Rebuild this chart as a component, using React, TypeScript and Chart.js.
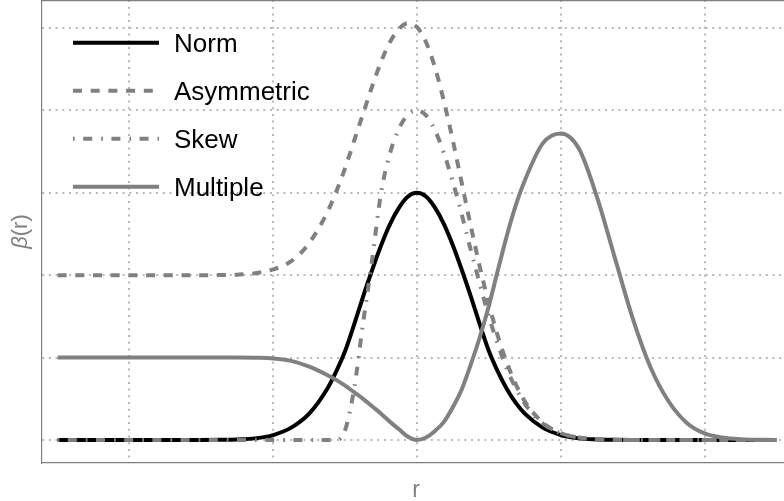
import React, { useEffect, useRef } from 'react';
import { Chart, registerables } from 'chart.js';

Chart.register(...registerables);

// r sample positions
const R = [
  -5, -4.5, -4, -3.5, -3, -2.75, -2.5, -2.25, -2, -1.75, -1.5, -1.25,
  -1.125, -1, -0.875, -0.75, -0.625, -0.5, -0.375, -0.25, -0.125, 0,
  0.125, 0.25, 0.375, 0.5, 0.625, 0.75, 0.875, 1, 1.125, 1.25, 1.375, 1.5,
  1.75, 2, 2.25, 2.5, 2.75, 3, 3.25, 3.5, 3.75, 4, 4.25, 4.5, 5,
];

const NORM = [
  0, 0, 0, 0, 0, 0.002, 0.007, 0.02, 0.06, 0.15, 0.32, 0.62,
  0.83, 1.08, 1.4, 1.74, 2.06, 2.36, 2.62, 2.82, 2.955, 3.0,
  2.955, 2.82, 2.62, 2.36, 2.06, 1.74, 1.4, 1.08, 0.83, 0.62, 0.45, 0.32,
  0.15, 0.06, 0.02, 0.007, 0.002, 0, 0, 0, 0, 0, 0, 0, 0,
];

const ASYMMETRIC = [
  2, 2, 2, 2, 2, 2.002, 2.007, 2.024, 2.07, 2.17, 2.39, 2.76,
  3.01, 3.3, 3.63, 3.96, 4.29, 4.59, 4.83, 4.99, 5.06, 5.01,
  4.83, 4.52, 4.11, 3.63, 3.11, 2.59, 2.1, 1.65, 1.26, 0.94, 0.675, 0.47,
  0.21, 0.085, 0.03, 0.01, 0.003, 0, 0, 0, 0, 0, 0, 0, 0,
];

const SKEW = [
  0, 0, 0, 0, 0, 0, 0, 0, 0, 0, 0, 0,
  0, 0.12, 0.62, 1.42, 2.18, 3.0, 3.48, 3.78, 3.95, 4.0,
  3.94, 3.76, 3.48, 3.13, 2.73, 2.3, 1.89, 1.5, 1.16, 0.86, 0.63, 0.44,
  0.2, 0.08, 0.03, 0.01, 0.003, 0, 0, 0, 0, 0, 0, 0, 0,
];

const MULTIPLE = [
  1, 1, 1, 1, 1, 1, 1, 0.998, 0.99, 0.96, 0.89, 0.79,
  0.73, 0.66, 0.58, 0.5, 0.41, 0.32, 0.22, 0.13, 0.04, 0.0,
  0.03, 0.11, 0.22, 0.4, 0.62, 0.92, 1.25, 1.63, 2.06, 2.48, 2.85, 3.15,
  3.6, 3.72, 3.54, 2.96, 2.22, 1.48, 0.88, 0.47, 0.21, 0.08, 0.03, 0.01, 0,
];

const SERIES_LABELS = ['Norm', 'Asymmetric', 'Skew', 'Multiple'];
const X_GRID = [-4, -2, 0, 2, 4];
const Y_GRID = [0, 1, 2, 3, 4, 5];
const X_TITLE = 'r';
const Y_TITLE_SYMBOL = 'β';
const Y_TITLE_REST = '(r)';

const FONT = '"Liberation Sans", Arial, Helvetica, sans-serif';
const GREY = '#808080';

export default function App() {
  const ref = useRef<HTMLCanvasElement>(null);

  useEffect(() => {
    const canvas = ref.current;
    if (!canvas) return;
    const pts = (ys: number[]) => R.map((x, i) => ({ x, y: ys[i] }));

    const legendPlugin = {
      id: 'customLegend',
      afterDatasetsDraw(chart: any) {
        const ctx = chart.ctx as CanvasRenderingContext2D;
        chart.data.datasets.forEach((ds: any, i: number) => {
          const y = 42.7 + 48 * i;
          ctx.save();
          ctx.strokeStyle = ds.borderColor;
          ctx.lineWidth = ds.borderWidth;
          ctx.setLineDash(ds.borderDash || []);
          ctx.lineCap = 'butt';
          ctx.beginPath();
          ctx.moveTo(73, y);
          ctx.lineTo(159, y);
          ctx.stroke();
          ctx.setLineDash([]);
          ctx.fillStyle = '#000';
          ctx.font = `26px ${FONT}`;
          ctx.textAlign = 'left';
          ctx.textBaseline = 'alphabetic';
          ctx.fillText(ds.label, 174, y + 9.3);
          ctx.restore();
        });
      },
    };

    const framePlugin = {
      id: 'frameAndTitles',
      afterDraw(chart: any) {
        const ctx = chart.ctx as CanvasRenderingContext2D;
        const area = chart.chartArea;
        ctx.save();
        // top frame line
        ctx.strokeStyle = GREY;
        ctx.lineWidth = 1.2;
        ctx.beginPath();
        ctx.moveTo(area.left, area.top + 0.6);
        ctx.lineTo(area.right, area.top + 0.6);
        ctx.stroke();
        // x title
        ctx.fillStyle = GREY;
        ctx.font = `23px ${FONT}`;
        ctx.textAlign = 'center';
        ctx.textBaseline = 'alphabetic';
        ctx.fillText(X_TITLE, 416, 497);
        // y title (italic beta)
        const cy = (area.top + area.bottom) / 2;
        ctx.translate(21, cy);
        ctx.rotate(-Math.PI / 2);
        ctx.textBaseline = 'middle';
        ctx.textAlign = 'left';
        ctx.font = `italic 22px ${FONT}`;
        const w1 = ctx.measureText(Y_TITLE_SYMBOL).width;
        ctx.font = `22px ${FONT}`;
        const w2 = ctx.measureText(Y_TITLE_REST).width;
        const x0 = -(w1 + w2) / 2;
        ctx.font = `italic 22px ${FONT}`;
        ctx.fillText(Y_TITLE_SYMBOL, x0, 0);
        ctx.font = `22px ${FONT}`;
        ctx.fillText(Y_TITLE_REST, x0 + w1, 0);
        ctx.restore();
      },
    };

    const chart = new Chart(canvas, {
      type: 'line',
      data: {
        datasets: [
          {
            label: SERIES_LABELS[0],
            data: pts(NORM),
            borderColor: '#000000',
            borderWidth: 4,
            borderDash: [],
            order: 4,
          },
          {
            label: SERIES_LABELS[1],
            data: pts(ASYMMETRIC),
            borderColor: GREY,
            borderWidth: 4,
            borderDash: [9, 8.7],
            order: 3,
          },
          {
            label: SERIES_LABELS[2],
            data: pts(SKEW),
            borderColor: GREY,
            borderWidth: 4,
            borderDash: [1.7, 8.5, 9, 9],
            order: 2,
          },
          {
            label: SERIES_LABELS[3],
            data: pts(MULTIPLE),
            borderColor: GREY,
            borderWidth: 4,
            borderDash: [],
            order: 1,
          },
        ] as any,
      },
      options: {
        animation: false,
        responsive: false,
        devicePixelRatio: 1,
        layout: { padding: 0 },
        elements: {
          point: { radius: 0, hoverRadius: 0 },
          line: { cubicInterpolationMode: 'monotone', borderCapStyle: 'butt', fill: false },
        },
        plugins: {
          legend: { display: false },
          tooltip: { enabled: false },
          title: { display: false },
        },
        scales: {
          x: {
            type: 'linear',
            min: -5.217,
            max: 5.106,
            afterBuildTicks: (s: any) => {
              s.ticks = X_GRID.map((v) => ({ value: v }));
            },
            afterFit: (s: any) => {
              s.height = 38;
            },
            ticks: { display: false },
            grid: { color: '#b8b8b8', lineWidth: 2, drawTicks: false, tickLength: 0 },
            border: { display: true, color: GREY, width: 1.2, dash: [2, 4.7] },
          },
          y: {
            type: 'linear',
            min: -0.279,
            max: 5.34,
            afterBuildTicks: (s: any) => {
              s.ticks = Y_GRID.map((v) => ({ value: v }));
            },
            afterFit: (s: any) => {
              s.width = 42;
            },
            ticks: { display: false },
            grid: { color: '#b8b8b8', lineWidth: 2, drawTicks: false, tickLength: 0 },
            border: { display: true, color: GREY, width: 1.2, dash: [2, 4.7] },
          },
        },
      } as any,
      plugins: [legendPlugin, framePlugin],
    });

    return () => chart.destroy();
  }, []);

  return (
    <div style={{ position: 'absolute', left: 0, top: 0, width: 784, height: 501, background: '#fff' }}>
      <canvas ref={ref} width={784} height={501} style={{ display: 'block' }} />
    </div>
  );
}
